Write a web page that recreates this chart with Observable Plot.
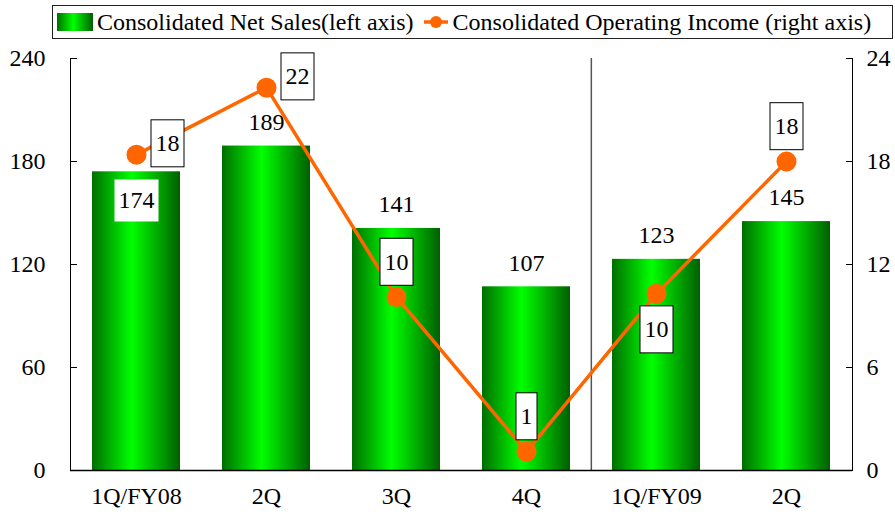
<!DOCTYPE html>
<html><head><meta charset="utf-8">
<script src="https://cdn.jsdelivr.net/npm/d3@7"></script>
<script src="https://cdn.jsdelivr.net/npm/@observablehq/plot@0.6"></script>
<style>
body{margin:0;background:#fff;font-family:"Liberation Serif","Times New Roman",serif;}
#legend{position:absolute;left:52px;top:5px;width:841px;height:34px;box-sizing:border-box;border:1px solid #222;display:flex;align-items:center;font-size:24px;color:#000;white-space:nowrap;padding-left:4px;}
#legend svg{display:block;}
#chart{position:absolute;left:0;top:40px;}
#chart svg, #chart svg text{font-family:"Liberation Serif","Times New Roman",serif !important;}
</style></head><body>
<svg width="0" height="0" style="position:absolute"><defs>
<linearGradient id="barGrad" x1="0" x2="1" y1="0" y2="0">
<stop offset="0" stop-color="#006e00"/><stop offset="0.45" stop-color="#00ff00"/><stop offset="1" stop-color="#005f00"/>
</linearGradient></defs></svg>
<div id="legend">
  <svg width="36" height="18" style="margin-right:4px"><rect width="36" height="18" fill="url(#barGrad)"/></svg>
  <span>Consolidated Net Sales(left axis)</span>
  <svg width="24" height="14" style="margin-left:10px;margin-right:5px"><line x1="0" x2="24" y1="7" y2="7" stroke="#ff6600" stroke-width="3.5"/><circle cx="12" cy="7" r="6" fill="#ff6600"/></svg>
  <span>Consolidated Operating Income (right axis)</span>
</div>
<div id="chart"></div>
<script>
const periods = ["1Q/FY08","2Q/FY08","3Q/FY08","4Q/FY08","1Q/FY09","2Q/FY09"];
const tickLabels = ["1Q/FY08","2Q","3Q","4Q","1Q/FY09","2Q"];
const netSales = [174,189,141,107,123,145];
const operatingIncome = [18.4,22.3,10.1,1.1,10.3,18.0];
const salesTicks = [0,60,120,180,240];
const incomeTicks = [0,6,12,18,24];

const W = 895, H = 480, mL = 70, mR = 43, mT = 18, mB = 50;
const step = (W - mL - mR) / periods.length;
const ratio = salesTicks[salesTicks.length-1] / incomeTicks[incomeTicks.length-1];
const data = periods.map((p,i)=>({period:p, sales:netSales[i], income:operatingIncome[i], incomeScaled:operatingIncome[i]*ratio}));

// label placement (layout config)
const salesInside = new Set(["1Q/FY08"]);
const incomePlace = {"1Q/FY08":"ur","2Q/FY08":"ur","3Q/FY08":"above","4Q/FY08":"above","1Q/FY09":"below","2Q/FY09":"above"};

const font = "Liberation Serif, Times New Roman, serif";
const plot = Plot.plot({
  width: W, height: H, marginLeft: mL, marginRight: mR, marginTop: mT, marginBottom: mB,
  style: {fontFamily: font, fontSize: "24px", color: "#000", background: "#fff", overflow: "visible"},
  x: {domain: periods, paddingInner: 0.325, paddingOuter: 0.1625, axis: null, label: null},
  y: {domain: [0, salesTicks[salesTicks.length-1]], axis: null, label: null},
  marks: [
    Plot.barY(data, {x: "period", y: "sales", fill: "url(#barGrad)"}),
    Plot.ruleX([periods[4]], {x: d => d, dx: -step/2, stroke: "#555", strokeWidth: 1.5}),
    Plot.ruleY([0], {stroke: "#000", strokeWidth: 1.5}),
    Plot.frame({anchor: "left", stroke: "#000"}),
    Plot.frame({anchor: "right", stroke: "#000"}),
    Plot.axisY({anchor: "left", ticks: salesTicks, tickSize: -7, tickPadding: 32, label: null}),
    Plot.axisY({anchor: "right", ticks: incomeTicks.map(v => v*ratio), tickFormat: v => String(v/ratio), tickSize: -7, tickPadding: 21, label: null}),
    Plot.axisX({ticks: periods, tickFormat: d => tickLabels[periods.indexOf(d)], tickSize: 0, tickPadding: 16, label: null}),
    Plot.text(data.filter(d => !salesInside.has(d.period)), {x: "period", y: "sales", text: d => String(d.sales), dy: -24, fill: "#000"}),
    Plot.text(data.filter(d => salesInside.has(d.period)), {x: "period", y: "sales", text: d => String(d.sales), dy: 29, fill: "#000", ariaLabel: () => "sales-inside"}),
    Plot.line(data, {x: "period", y: "incomeScaled", stroke: "#ff6600", strokeWidth: 3.5}),
    Plot.dot(data, {x: "period", y: "incomeScaled", r: 10, fill: "#ff6600"}),
    Plot.text(data.filter(d => incomePlace[d.period] === "ur"), {x: "period", y: "incomeScaled", text: d => String(Math.round(d.income)), dx: 31, dy: -11, fill: "#000", ariaLabel: () => "income-labels"}),
    Plot.text(data.filter(d => incomePlace[d.period] === "above"), {x: "period", y: "incomeScaled", text: d => String(Math.round(d.income)), dy: -35, fill: "#000", ariaLabel: () => "income-labels"}),
    Plot.text(data.filter(d => incomePlace[d.period] === "below"), {x: "period", y: "incomeScaled", text: d => String(Math.round(d.income)), dy: 36, fill: "#000", ariaLabel: () => "income-labels"})
  ]
});
document.getElementById("chart").append(plot);

for (const [name, padX, padY, stroke] of [["income-labels", 4.5, 10.5, "#000"], ["sales-inside", 4, 8, "none"]]) {
  plot.querySelectorAll(`text[aria-label="${name}"]`).forEach(t => {
    const b = t.getBBox();
    const r = document.createElementNS("http://www.w3.org/2000/svg", "rect");
    r.setAttribute("x", b.x - padX);
    r.setAttribute("y", b.y - padY);
    r.setAttribute("width", b.width + 2*padX);
    r.setAttribute("height", b.height + 2*padY);
    r.setAttribute("fill", "#fff");
    r.setAttribute("stroke", stroke);
    r.setAttribute("stroke-width", 1);
    if (t.getAttribute("transform")) r.setAttribute("transform", t.getAttribute("transform"));
    t.parentNode.insertBefore(r, t);
  });
}
</script>
</body></html>
